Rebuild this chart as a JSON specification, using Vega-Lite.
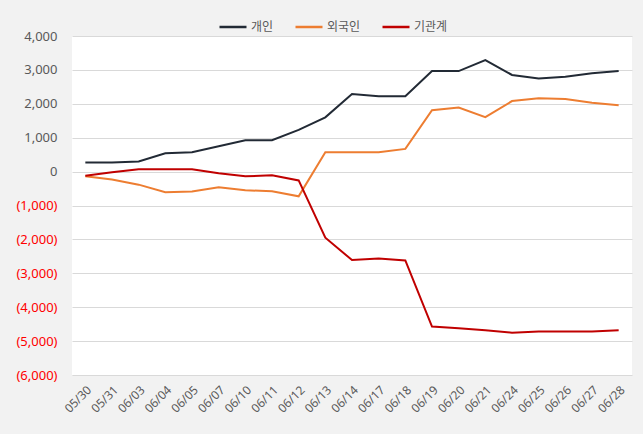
{
  "$schema": "https://vega.github.io/schema/vega-lite/v6.json",
  "width": 560,
  "height": 339,
  "autosize": "none",
  "padding": {"left": 72, "top": 36, "right": 11, "bottom": 59},
  "background": "#f2f2f2",
  "config": {
    "view": {"fill": "white", "stroke": null},
    "font": "Noto Sans CJK KR"
  },
  "data": {
    "values": [
      {"date": "05/30", "series": "개인", "value": 270},
      {"date": "05/31", "series": "개인", "value": 270},
      {"date": "06/03", "series": "개인", "value": 300},
      {"date": "06/04", "series": "개인", "value": 540},
      {"date": "06/05", "series": "개인", "value": 570},
      {"date": "06/07", "series": "개인", "value": 750},
      {"date": "06/10", "series": "개인", "value": 925},
      {"date": "06/11", "series": "개인", "value": 925},
      {"date": "06/12", "series": "개인", "value": 1230},
      {"date": "06/13", "series": "개인", "value": 1600},
      {"date": "06/14", "series": "개인", "value": 2290},
      {"date": "06/17", "series": "개인", "value": 2225},
      {"date": "06/18", "series": "개인", "value": 2225},
      {"date": "06/19", "series": "개인", "value": 2965},
      {"date": "06/20", "series": "개인", "value": 2965},
      {"date": "06/21", "series": "개인", "value": 3290},
      {"date": "06/24", "series": "개인", "value": 2850},
      {"date": "06/25", "series": "개인", "value": 2750},
      {"date": "06/26", "series": "개인", "value": 2800},
      {"date": "06/27", "series": "개인", "value": 2900},
      {"date": "06/28", "series": "개인", "value": 2965},
      {"date": "05/30", "series": "외국인", "value": -140},
      {"date": "05/31", "series": "외국인", "value": -235},
      {"date": "06/03", "series": "외국인", "value": -385},
      {"date": "06/04", "series": "외국인", "value": -610},
      {"date": "06/05", "series": "외국인", "value": -590},
      {"date": "06/07", "series": "외국인", "value": -460},
      {"date": "06/10", "series": "외국인", "value": -550},
      {"date": "06/11", "series": "외국인", "value": -580},
      {"date": "06/12", "series": "외국인", "value": -730},
      {"date": "06/13", "series": "외국인", "value": 570},
      {"date": "06/14", "series": "외국인", "value": 570},
      {"date": "06/17", "series": "외국인", "value": 570},
      {"date": "06/18", "series": "외국인", "value": 670},
      {"date": "06/19", "series": "외국인", "value": 1810},
      {"date": "06/20", "series": "외국인", "value": 1890},
      {"date": "06/21", "series": "외국인", "value": 1605},
      {"date": "06/24", "series": "외국인", "value": 2080},
      {"date": "06/25", "series": "외국인", "value": 2165},
      {"date": "06/26", "series": "외국인", "value": 2140},
      {"date": "06/27", "series": "외국인", "value": 2030},
      {"date": "06/28", "series": "외국인", "value": 1960},
      {"date": "05/30", "series": "기관계", "value": -120},
      {"date": "05/31", "series": "기관계", "value": -20},
      {"date": "06/03", "series": "기관계", "value": 70},
      {"date": "06/04", "series": "기관계", "value": 70},
      {"date": "06/05", "series": "기관계", "value": 70},
      {"date": "06/07", "series": "기관계", "value": -50},
      {"date": "06/10", "series": "기관계", "value": -140},
      {"date": "06/11", "series": "기관계", "value": -110},
      {"date": "06/12", "series": "기관계", "value": -260},
      {"date": "06/13", "series": "기관계", "value": -1950},
      {"date": "06/14", "series": "기관계", "value": -2610},
      {"date": "06/17", "series": "기관계", "value": -2560},
      {"date": "06/18", "series": "기관계", "value": -2620},
      {"date": "06/19", "series": "기관계", "value": -4570},
      {"date": "06/20", "series": "기관계", "value": -4620},
      {"date": "06/21", "series": "기관계", "value": -4680},
      {"date": "06/24", "series": "기관계", "value": -4750},
      {"date": "06/25", "series": "기관계", "value": -4720},
      {"date": "06/26", "series": "기관계", "value": -4720},
      {"date": "06/27", "series": "기관계", "value": -4720},
      {"date": "06/28", "series": "기관계", "value": -4680}
    ]
  },
  "mark": {"type": "line", "strokeWidth": 2},
  "encoding": {
    "x": {
      "field": "date",
      "type": "ordinal",
      "sort": null,
      "scale": {"type": "point", "padding": 0.5},
      "axis": {
        "title": null,
        "labelAngle": -45,
        "labelFont": "Noto Sans",
        "labelFontSize": 12,
        "labelColor": "#595959",
        "ticks": false,
        "domain": false,
        "grid": false,
        "labelPadding": 9
      }
    },
    "y": {
      "field": "value",
      "type": "quantitative",
      "scale": {"domain": [-6000, 4000], "nice": false, "zero": false},
      "axis": {
        "title": null,
        "values": [-6000, -5000, -4000, -3000, -2000, -1000, 0, 1000, 2000, 3000, 4000],
        "labelExpr": "datum.value < 0 ? '(' + format(-datum.value, ',') + ')' : format(datum.value, ',')",
        "labelColor": {"condition": {"test": "datum.value < 0", "value": "#ff0000"}, "value": "#595959"},
        "labelFont": "Noto Sans",
        "labelFontSize": 13,
        "labelPadding": 15,
        "ticks": false,
        "domain": false,
        "gridColor": "#d9d9d9",
        "gridWidth": 1
      }
    },
    "color": {
      "field": "series",
      "type": "nominal",
      "scale": {"domain": ["개인", "외국인", "기관계"], "range": ["#222a35", "#ed7d31", "#c00000"]},
      "legend": {
        "title": null,
        "orient": "none",
        "direction": "horizontal",
        "legendX": 146,
        "legendY": -24,
        "symbolType": "stroke",
        "symbolSize": 729,
        "symbolStrokeWidth": 2.5,
        "labelFontSize": 12,
        "labelColor": "#595959",
        "labelOffset": 3,
        "columnPadding": 16
      }
    }
  }
}
